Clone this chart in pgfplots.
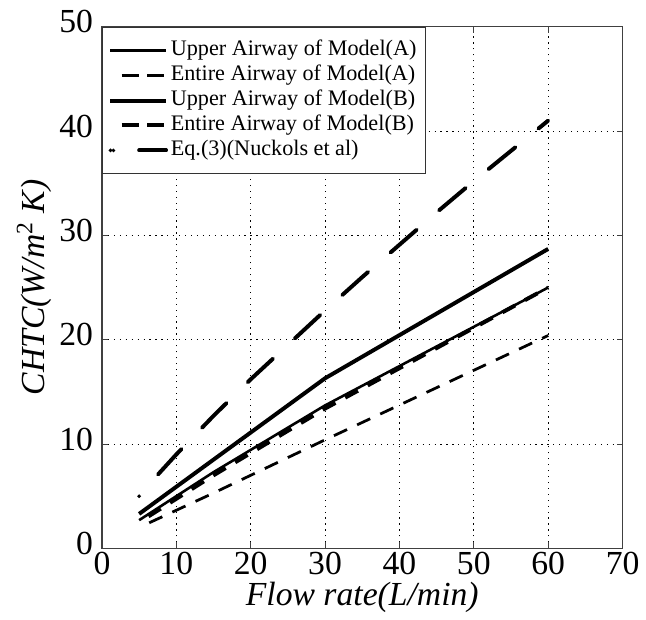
\documentclass[border=0pt]{standalone}
\usepackage{fontspec}
\setmainfont{Liberation Serif}
\usepackage{pgfplots}
\pgfplotsset{compat=1.18}

\begin{document}
\begin{tikzpicture}
\begin{axis}[
    scale only axis, width=263pt, height=263.5pt,
    xmin=0, xmax=70, ymin=0, ymax=50,
    xtick={0,10,...,70}, ytick={0,10,...,50},
    tick align=inside, major tick length=3pt,
    grid=major,
    major grid style={black, line width=0.5pt, dash pattern=on 0.6pt off 2.4pt},
    axis line style={black!75, line width=0.6pt},
    tick style={black!75, line width=0.5pt},
    /pgf/number format/assume math mode=true,
    ticklabel style={font=\fontsize{17}{20}\selectfont},
    xticklabel style={yshift=1.5pt},
    yticklabel style={yshift=2.5pt, xshift=-1pt},
    label style={font=\fontsize{17}{20}\selectfont},
    xlabel={\textit{Flow rate(L/min)}},
    ylabel={\textit{CHTC(W/m\textsuperscript{\upshape 2} K)}},
    xlabel style={at={(axis description cs:0.5,-0.110)}, anchor=base},
    ylabel style={at={(axis description cs:-0.110,0.5)}, anchor=base},
    legend style={at={(0,1)}, anchor=north west, draw=black!80, line width=0.6pt,
        inner xsep=3pt, inner ysep=5.5pt, row sep=0pt,
        font=\fontsize{11.2}{12.6}\selectfont,
        nodes={inner ysep=1pt, inner xsep=1.5pt, text height=8pt, text depth=2.6pt}},
    legend cell align=left,
    legend image code/.code={
        \path (-1.5pt,0pt) -- (26.5pt,0pt);
        \draw[#1] (0pt,0pt) -- (26.5pt,0pt);},
]
% Upper Airway of Model(A)
\addplot[black, line width=1.3pt] coordinates {(5,2.7)(15,7.3)(30,13.7)(60,25.0)};
% Entire Airway of Model(A)
\addplot[black, line width=1.4pt, dash pattern=on 7.3pt off 5.6pt, dash phase=7.3pt]
    coordinates {(5,2.0)(15,5.3)(30,10.4)(60,20.4)};
% Upper Airway of Model(B)
\addplot[black, line width=2pt] coordinates {(5,3.3)(15,8.5)(30,16.3)(60,28.7)};
% Entire Airway of Model(B)
\addplot[black, line width=2pt, dash pattern=on 7.3pt off 5.6pt, dash phase=7.3pt]
    coordinates {(5,2.5)(15,7.0)(30,13.4)(60,25.0)};
% Eq.(3) Nuckols et al
\addplot[black, line width=2pt, line cap=round,
    dash pattern=on 0pt off 14.5pt on 17.5pt off 15pt on 17.5pt off 15pt on 17.5pt off 15pt
        on 17.5pt off 15pt on 17.5pt off 15pt on 17.5pt off 15pt on 17.5pt off 15pt
        on 17.5pt off 15pt on 17.5pt off 15pt]
    coordinates {(5,5.0)(7.5,7.05)(10,9.0)(15,12.7)(20,16.2)(25,19.5)(30,22.8)
        (35,26.0)(40,29.1)(45,32.2)(50,35.2)(55,38.1)(60,41.0)};
\legend{Upper Airway of Model(A), Entire Airway of Model(A),
    Upper Airway of Model(B), Entire Airway of Model(B), Eq.(3)(Nuckols et al)}
\coordinate (bbl) at (rel axis cs:-0.1958,-0.1347);
\coordinate (btr) at (rel axis cs:1.0323,1.0512);
\end{axis}
\path (bbl) rectangle (btr);
\end{tikzpicture}
\end{document}
